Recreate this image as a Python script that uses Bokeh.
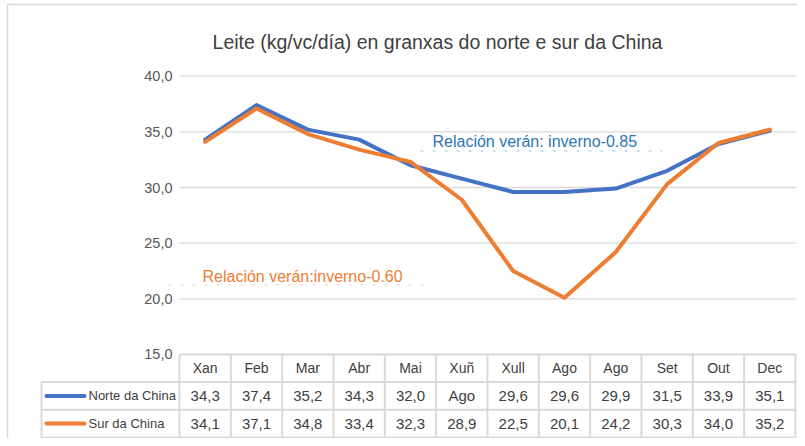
from bokeh.plotting import figure
from bokeh.models import Range1d
from bokeh.core.properties import value
from bokeh.embed import file_html
from bokeh.resources import INLINE

# ---- data ----
months = ["Xan", "Feb", "Mar", "Abr", "Mai", "Xuñ", "Xull", "Ago", "Ago", "Set", "Out", "Dec"]
norte = [34.3, 37.4, 35.2, 34.3, 32.0, 30.8, 29.6, 29.6, 29.9, 31.5, 33.9, 35.1]
sur = [34.1, 37.1, 34.8, 33.4, 32.3, 28.9, 22.5, 20.1, 24.2, 30.3, 34.0, 35.2]
norte_labels = ["34,3", "37,4", "35,2", "34,3", "32,0", "Ago", "29,6", "29,6", "29,9", "31,5", "33,9", "35,1"]
sur_labels = ["34,1", "37,1", "34,8", "33,4", "32,3", "28,9", "22,5", "20,1", "24,2", "30,3", "34,0", "35,2"]
y_ticks = [15, 20, 25, 30, 35, 40]
y_tick_labels = ["15,0", "20,0", "25,0", "30,0", "35,0", "40,0"]
series_names = ["Norte da China", "Sur da China"]
series_colors = ["#4472C4", "#ED7D31"]
title_text = "Leite (kg/vc/día) en granxas do norte e sur da China"
note_norte = "Relación verán: inverno-0.85"
note_sur = "Relación verán:inverno-0.60"

# ---- layout (pixel geometry of the page -> data units) ----
W, H = 797, 438
OX, OY = 0, 0
COL0_PX, COL_W = 179.0, 51.33
Y40_PX, Y_UNIT = 75.7, 11.13

def dx(px):
    return (px - COL0_PX) / COL_W

def dy(py):
    return 40 + (Y40_PX - py) / Y_UNIT

FONT = value("Liberation Sans")
GRID = "#d9d9d9"
TXT = "#404040"

p = figure(width=W, height=H, output_backend="svg", toolbar_location=None,
           x_axis_location=None, y_axis_location=None,
           x_range=Range1d(dx(OX), dx(OX + W)), y_range=Range1d(dy(OY + H), dy(OY)),
           min_border=0, outline_line_color=None)
p.grid.visible = False
p.background_fill_color = "white"
p.border_fill_color = "white"

n = len(months)
xc = [i + 0.5 for i in range(n)]

# chart frame (left/top edges)
p.segment(x0=[dx(7), dx(7)], y0=[dy(OY + H), dy(4)],
          x1=[dx(7), dx(OX + W)], y1=[dy(4), dy(4)],
          line_color=GRID, line_width=1.5)

# horizontal gridlines
gt = y_ticks[1:]
p.segment(x0=[0] * len(gt), y0=gt, x1=[n] * len(gt), y1=gt, line_color=GRID, line_width=1.3)

# y tick labels
p.text(x=[dx(172)] * len(y_ticks), y=y_ticks, text=y_tick_labels, text_align="right",
       text_baseline="middle", text_font=FONT, text_font_size="14.5px", text_color="#595959")

# title
p.text(x=[dx(437)], y=[dy(41)], text=[title_text], text_align="center", text_baseline="middle",
       text_font=FONT, text_font_size="19.5px", text_color=TXT)

# annotations
p.segment(x0=[dx(420)], y0=[dy(150.5)], x1=[dx(662)], y1=[dy(150.5)],
          line_color="#9DC3E6", line_width=1, line_dash="3 9")
p.text(x=[dx(432)], y=[dy(141)], text=[note_norte], text_align="left", text_baseline="middle",
       text_font=FONT, text_font_size="16px", text_color="#2E75B6")
p.segment(x0=[dx(168)], y0=[dy(284.5)], x1=[dx(428)], y1=[dy(284.5)],
          line_color="#F8CBAD", line_width=1, line_dash="3 9")
p.text(x=[dx(202)], y=[dy(276)], text=[note_sur], text_align="left", text_baseline="middle",
       text_font=FONT, text_font_size="16px", text_color="#ED7D31")

# lines
for vals, col in zip([norte, sur], series_colors):
    p.line(x=xc, y=vals, line_color=col, line_width=4, line_join="round", line_cap="round")

# ---- data table ----
t_top = 15
row_h = (dy(354) - dy(437)) / 3
r1 = t_top - row_h
r2 = t_top - 2 * row_h
r3 = t_top - 3 * row_h
leg_left = dx(41)

# horizontal table lines
p.segment(x0=[0, leg_left, leg_left, leg_left], y0=[t_top, r1, r2, r3],
          x1=[n, n, n, n], y1=[t_top, r1, r2, r3], line_color=GRID, line_width=2)
# vertical lines
p.segment(x0=list(range(n + 1)), y0=[r3] * (n + 1), x1=list(range(n + 1)), y1=[t_top] * (n + 1),
          line_color=GRID, line_width=2)
p.segment(x0=[leg_left], y0=[r3], x1=[leg_left], y1=[r1], line_color=GRID, line_width=2)

# header
p.text(x=xc, y=[t_top - row_h / 2] * n, text=months, text_align="center", text_baseline="middle",
       text_font=FONT, text_font_size="14px", text_color=TXT)
# rows
for k, (labels, name, col) in enumerate(zip([norte_labels, sur_labels], series_names, series_colors)):
    yc = t_top - row_h * (k + 1.5)
    p.text(x=xc, y=[yc] * n, text=labels, text_align="center", text_baseline="middle",
           text_font=FONT, text_font_size="15px", text_color=TXT)
    p.segment(x0=[dx(46)], y0=[yc], x1=[dx(84)], y1=[yc], line_color=col, line_width=4,
              line_cap="round")
    p.text(x=[dx(88)], y=[yc], text=[name], text_align="left", text_baseline="middle",
           text_font=FONT, text_font_size="13px", text_color=TXT)

open("out.html", "w").write(file_html(p, INLINE))
